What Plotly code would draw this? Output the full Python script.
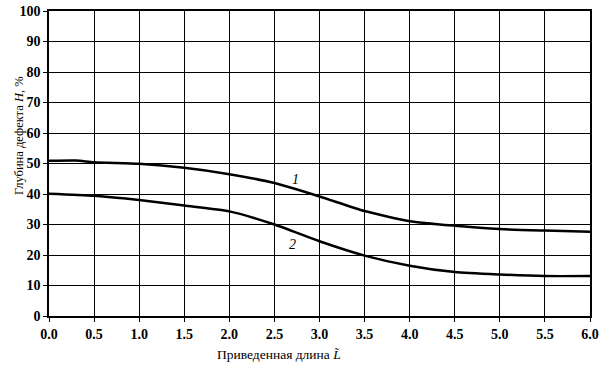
import plotly.graph_objects as go

x1 = [0.0, 0.3, 0.5, 1.0, 1.5, 2.0, 2.5, 3.0, 3.5, 4.0, 4.5, 5.0, 5.5, 6.0]
y1 = [50.9, 51.0, 50.4, 49.9, 48.6, 46.5, 43.6, 39.2, 34.4, 31.1, 29.6, 28.5, 28.0, 27.6]
x2 = [0.0, 0.5, 1.0, 1.5, 2.0, 2.5, 3.0, 3.5, 4.0, 4.5, 5.0, 5.5, 6.0]
y2 = [40.1, 39.4, 38.0, 36.2, 34.3, 30.0, 24.5, 19.8, 16.5, 14.4, 13.6, 13.1, 13.1]
x_ticks = [0.0, 0.5, 1.0, 1.5, 2.0, 2.5, 3.0, 3.5, 4.0, 4.5, 5.0, 5.5, 6.0]
y_ticks = [0, 10, 20, 30, 40, 50, 60, 70, 80, 90, 100]
curve_labels = ["1", "2"]
label_pos = [(2.73, 44.8), (2.7, 23.5)]

font_family = "Liberation Serif, Times New Roman, serif"

fig = go.Figure()
fig.add_trace(go.Scatter(x=x1, y=y1, mode="lines", line=dict(color="black", width=2.5, shape="spline", smoothing=0.6), showlegend=False))
fig.add_trace(go.Scatter(x=x2, y=y2, mode="lines", line=dict(color="black", width=2.5, shape="spline", smoothing=0.6), showlegend=False))

for lab, (lx, ly) in zip(curve_labels, label_pos):
    fig.add_annotation(x=lx, y=ly, text=f"<i>{lab}</i>", showarrow=False,
                       font=dict(family=font_family, size=14, color="black"))

fig.add_annotation(xref="paper", yref="paper", x=-0.039, xanchor="right", y=0.593, text="Глубина дефекта <i>H</i>, %",
                   textangle=-90, showarrow=False, font=dict(family=font_family, size=12.5, color="black"))
fig.add_annotation(xref="paper", yref="paper", x=0.425, y=-0.095, yanchor="top",
                   text="Приведенная длина <i>L̃</i>", showarrow=False,
                   font=dict(family=font_family, size=13.5, color="black"))

axis_common = dict(showgrid=True, gridcolor="black", gridwidth=1.3, showline=True, linecolor="black",
                   linewidth=1.5, mirror=True, ticks="outside", ticklen=4, tickcolor="black", zeroline=False,
                   automargin=False,
                   tickfont=dict(family=font_family, size=14, color="black", weight="bold"))

fig.update_xaxes(range=[0, 6], tickvals=x_ticks, ticktext=[f"{v:.1f}" for v in x_ticks], **axis_common)
fig.update_yaxes(range=[0, 100], tickvals=y_ticks, ticktext=[str(v) for v in y_ticks], **axis_common)

fig.update_layout(width=605, height=366, margin=dict(l=49, r=15, t=11, b=50),
                  plot_bgcolor="white", paper_bgcolor="white")

fig.write_html("out.html", config={"displayModeBar": False},
               post_script="document.body.style.margin='0';document.body.style.overflow='hidden';")
